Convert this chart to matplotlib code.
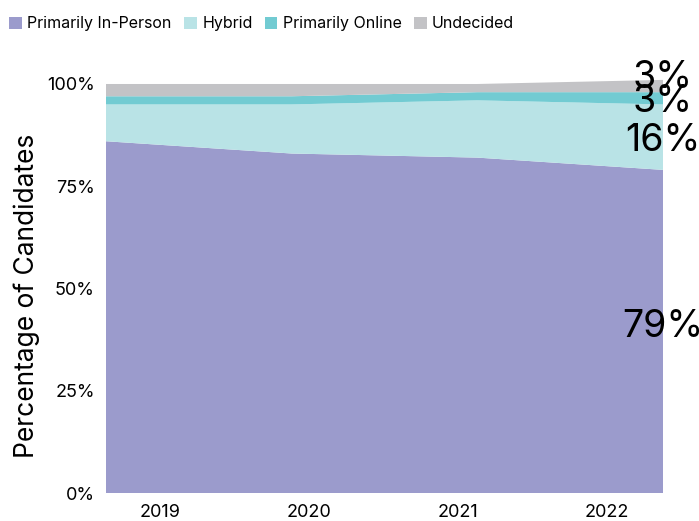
import numpy as np
import matplotlib
matplotlib.use("Agg")
import matplotlib.pyplot as plt
from matplotlib.patches import Patch

plt.rcParams["font.family"] = ["Inter", "DejaVu Sans"]

years = ["2019", "2020", "2021", "2022"]
in_person = [86, 83, 82, 79]
hybrid = [9, 12, 14, 16]
online = [2, 2, 2, 3]
undecided = [3, 3, 2, 3]

series_names = ["Primarily In-Person", "Hybrid", "Primarily Online", "Undecided"]
colors = ["#9B9BCC", "#B9E3E6", "#72CBD2", "#C3C3C6"]
# vertical nudges (points) for the end labels so the small ones don't collide
label_nudge = [6, 0, 0, 8.5]

fig = plt.figure(figsize=(6.99, 5.21), dpi=100)
ax = fig.add_axes([0.1516, 0.0537, 0.7969, 0.8008])

x = np.arange(len(years))
series = [in_person, hybrid, online, undecided]
ax.stackplot(x, *series, colors=colors, linewidth=0)

ax.set_xlim(x[0], x[-1])
ax.set_ylim(0, 102)
ax.set_yticks([0, 25, 50, 75, 100])
ax.set_yticklabels(["0%", "25%", "50%", "75%", "100%"], fontsize=13)
# year labels sit inset from the area edges like in the original chart
ax.set_xticks(np.linspace(0.29, 2.70, len(years)))
ax.set_xticklabels(years, fontsize=13)
ax.tick_params(length=0, pad=8)
for s in ax.spines.values():
    s.set_visible(False)
ax.set_ylabel("Percentage of Candidates", fontsize=19)
ax.yaxis.set_label_coords(-0.118, 0.472)

# end-of-series value labels
bottom = 0
for vals, dy in zip(series, label_nudge):
    v = vals[-1]
    ax.annotate(f"{v}%", xy=(x[-1], bottom + v / 2), xytext=(0, dy),
                textcoords="offset points", ha="center", va="center_baseline",
                fontsize=27, color="black", annotation_clip=False)
    bottom += v

handles = [Patch(facecolor=c, edgecolor="none") for c in colors]
fig.legend(handles, series_names, loc="upper left", bbox_to_anchor=(-0.003, 0.99),
           ncol=4, frameon=False, fontsize=11.5, handlelength=0.8,
           handleheight=0.8, handletextpad=0.35, columnspacing=0.75,
           borderaxespad=0.3)

fig.savefig("out.png", dpi=100)
